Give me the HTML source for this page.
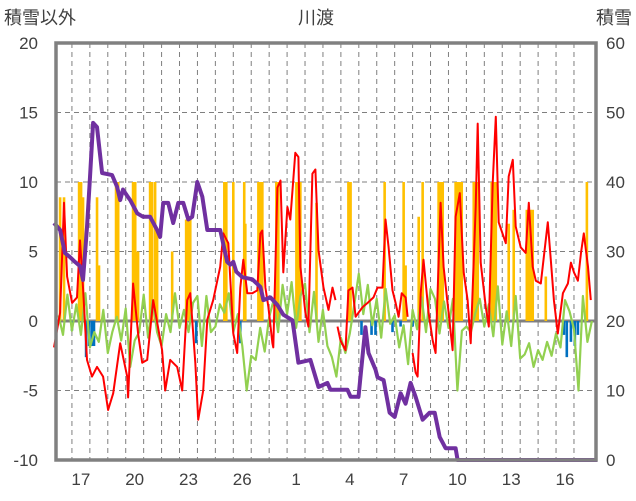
<!DOCTYPE html>
<html><head><meta charset="utf-8">
<style>
html,body{margin:0;padding:0;background:#fff;}
svg{display:block;font-family:"Liberation Sans","Noto Sans CJK JP",sans-serif;}
</style></head>
<body>
<svg id="chart" width="636" height="501" viewBox="0 0 636 501" xmlns="http://www.w3.org/2000/svg">
<g id="grid"></g>
<g id="bars"></g>
<g id="lines"></g>
<g id="frame"></g>
<g id="labels"></g>
</svg>
<script>
const leftTicks=[-10,-5,0,5,10,15,20];
const rightTicks=[0,10,20,30,40,50,60];
const dayLabels=["17","20","23","26","1","4","7","10","13","16"];
const dayLabelT=[1.5,4.5,7.5,10.5,13.5,16.5,19.5,22.5,25.5,28.5];
const redT=[0,0.34,0.56,0.73,1.01,1.28,1.45,1.62,1.84,2.12,2.4,2.74,3.02,3.3,3.69,4.08,4.13,4.41,4.69,4.92,5.2,5.53,6.03,6.2,6.48,6.87,7.15,7.43,7.6,7.88,8.04,8.32,8.55,8.88,9.27,9.44,9.72,10.0,10.22,10.39,10.56,10.78,11.06,11.34,11.51,11.62,11.79,11.96,12.18,12.23,12.46,12.63,12.79,13.02,13.18,13.46,13.63,13.74,14.02,14.19,14.41,14.58,14.75,15.03,15.31,15.53,15.7,15.75,15.81,15.98,16.26,16.42,16.65,16.82,16.98,17.21,17.49,17.82,18.04,18.32,18.49,18.66,18.88,19.05,19.22,19.39,19.61,19.72,19.85,20.0,20.17,20.28,20.45,20.61,20.89,21.12,21.28,21.56,21.73,22.01,22.23,22.4,22.63,22.85,23.07,23.24,23.52,23.63,23.8,24.08,24.25,24.47,24.64,24.8,25.2,25.36,25.59,25.75,26.03,26.31,26.48,26.7,26.87,27.15,27.32,27.54,27.71,27.88,28.1,28.38,28.66,28.83,29.0,29.22,29.39,29.55,29.78,29.94];
const redV=[-1.9,0.6,8.5,3.2,1.3,1.7,5.8,2.4,-2.8,-4.0,-3.3,-4.0,-6.4,-5.2,-1.6,-4.0,-5.5,2.7,-0.9,-3.0,-2.8,1.5,-2.1,-5.0,-2.8,-3.3,-5.0,1.5,2.0,-3.0,-7.1,-5.0,0.1,1.5,3.9,6.3,5.6,-0.9,-2.3,2.4,4.4,2.0,2.0,2.2,6.3,6.5,2.4,1.0,-1.6,-1.9,9.6,10.1,3.5,8.2,7.3,12.1,11.8,3.9,0.6,-0.4,10.6,10.9,5.1,2.4,0.8,2.4,1.5,null,-0.4,-1.4,-2.1,2.2,2.4,0.3,0.6,1.0,1.3,1.7,2.4,2.4,7.3,5.3,2.2,1.3,0.3,2.0,1.7,0.3,null,-2.3,-3.7,-4.0,2.0,4.4,0.6,-1.4,-2.3,8.5,3.9,0.6,-2.1,7.5,9.2,3.5,1.5,-1.6,8.2,14.2,4.2,1.0,-0.4,9.9,14.7,7.1,5.6,10.4,11.6,6.8,5.3,4.9,8.5,3.9,2.9,2.7,4.6,7.1,4.4,1.5,-0.9,2.0,2.7,4.2,3.5,2.9,4.9,6.3,3.9,1.5];
const greenV=[0.4,-1,1.9,-0.7, 1.2,-1,2,-1.9, -0.8,-1.5,0.8,-2.3, -0.8,0.3,-1.4,0.9, -3.3,-1.4,-0.8,1.9, -1.2,1.5,-0.8,-1.8, 0.5,-0.8,2,-0.5, 0.8,-0.8,1.3,1.8, -1.8,1.8,-0.8,-0.4, 1.2,0.6,2,-0.8, 0.5,-1.8,-5,-2.5, -2.8,-0.5,-2.2,0.3, 1.5,-0.8,2.6,0.5, 2.8,-0.5,1.8,2.7, -0.8,2.1,-1.5,0.8, -1.8,-2.6,-4,-1.2, -2.3,-0.9,1.2,3.4, 0.5,2.6,-0.3,1.6, -1.2,2.3,-0.2,0.4, -1.9,-0.3,-3.1,0.8, -0.6,1.7,-0.8,2.3, 1.6,-0.9,1.4,-0.5, 1.6,-5,-0.7,-0.4, -0.8,0.6,1.6,-0.4, 1.2,-1.1,2.5,-1.7, 0.7,-1.8,1.8,-2.7, -2.4,-1.6,-3.3,-2.1, -2.8,-1.5,-2.5,-0.9, -1.9,1.5,0.7,-0.6, -5,1.8,-1.5,0];
const yellowT=[0.34,0.56,1.4,1.51,1.62,2.4,2.51,3.46,3.58,4.41,4.53,4.64,4.69,5.36,5.47,5.64,5.75,6.59,7.37,7.49,7.6,9.5,9.61,10.0,10.61,10.67,11.4,11.51,11.62,12.4,12.51,13.52,13.63,13.74,14.64,16.42,16.54,18.44,19.5,19.61,20.34,20.56,21.45,21.56,21.68,22.4,22.51,22.63,22.74,23.41,23.52,23.63,24.41,24.53,24.64,25.36,25.64,26.37,26.48,26.59,26.7,27.43,29.72];
const yellowV=[8.9,8.9,10,10,8.9,8.9,4,10,10,10,10,5,5,10,10,10,6.5,5,7.3,7.3,7.3,10,10,10,10,7,10,10,10,10,10,10,10,10,8.5,10,10,10,10,4,7.5,10,10,10,10,10,10,10,10,10,10,10,10,10,10,7,8,8,8,8,8,3.2,10];
const blueT=[1.0,1.79,1.96,2.12,2.23,7.93,10.39,17.15,17.71,17.93,18.88,19.33,20.0,28.44,28.6,28.83,29.05,29.22];
const blueV=[-0.7,-2.6,-1.8,-1.8,-1.8,-1.6,-1.6,-1,-1,-1,-0.8,-0.4,-0.4,-1,-2.6,-1.5,-1.8,-1];
const snowT=[0,0.34,0.61,0.89,1.17,1.45,1.62,1.84,2.01,2.18,2.4,2.68,3.24,3.52,3.69,3.85,4.08,4.25,4.64,4.97,5.36,5.75,5.92,6.09,6.37,6.65,6.93,7.21,7.49,7.71,7.99,8.27,8.55,8.88,9.27,9.66,9.83,10.0,10.17,10.5,11.06,11.51,11.68,12.07,12.46,12.79,13.3,13.63,14.3,14.75,15.25,15.42,16.37,16.54,16.98,17.37,17.54,17.77,17.93,18.04,18.38,18.72,19.0,19.33,19.61,19.89,20.17,20.56,20.95,21.23,21.51,21.84,22.01,22.4,22.51,30.3];
const snowV=[34.1,33.1,29.8,29.2,28.5,27.9,25.9,33.5,40.7,48.5,47.9,41.3,41.0,39.3,37.4,38.9,38.0,37.4,35.5,35.0,35.0,33.1,32.1,37.0,37.0,34.1,37.0,37.0,34.6,35.0,40.0,37.9,33.1,33.1,33.1,28.5,28.1,28.5,27.1,26.3,26.0,24.9,23.0,23.4,22.3,20.9,20.1,14.0,14.4,10.5,11.1,10.1,10.1,9.1,9.1,19.1,15.4,14.0,13.0,11.9,11.5,6.8,6.2,9.6,8.1,11.1,9.1,5.8,6.8,6.8,3.3,1.7,1.7,1.7,0,0];

const NS="http://www.w3.org/2000/svg";
const X0=54, DX=17.93, L=56, R=596, T=43, B=460;
function xs(t){return X0+t*DX;}
function yl(v){return 321-v*13.9;}
function yr(s){return B-s*(B-T)/60;}
function mk(tag,attrs,parent){const e=document.createElementNS(NS,tag);for(const k in attrs)e.setAttribute(k,attrs[k]);parent.appendChild(e);return e;}
const grid=document.getElementById('grid'),bars=document.getElementById('bars'),lines=document.getElementById('lines'),frame=document.getElementById('frame'),labels=document.getElementById('labels');

// vertical dashed day lines
for(let k=1;k<30;k++){const x=xs(k);if(x>=R-2)break;
 const ln=mk('line',{x1:x,x2:x,y1:T,y2:B,stroke:'#7f7f7f','stroke-width':1,'stroke-dasharray':'5,4'},grid);
 
 }
leftTicks.forEach(v=>{if(v===-10||v===20||v===0)return;
 const ln=mk('line',{x1:L,x2:R,y1:yl(v),y2:yl(v),stroke:'#7f7f7f','stroke-width':1,'stroke-dasharray':'5,4'},grid);
 
 });

const bw=2.6;
yellowT.forEach((t,i)=>{const r=mk('rect',{x:xs(t)-bw/2,y:yl(yellowV[i]),width:bw,height:yl(0)-yl(yellowV[i]),fill:'#ffc000'},bars);
 
 });
blueT.forEach((t,i)=>{const r=mk('rect',{x:xs(t)-bw/2,y:yl(0),width:bw,height:yl(blueV[i])-yl(0),fill:'#0070c0'},bars);
 
 });

// zero line
const z=mk('line',{x1:L,x2:R,y1:yl(0),y2:yl(0),stroke:'#808080','stroke-width':3},grid);



function pathFrom(ts,vs,yf){let d='',pen=false;ts.forEach((t,i)=>{const v=vs[i];if(v===null){pen=false;return;}d+=(pen?'L':'M')+xs(t).toFixed(1)+','+yf(v).toFixed(1);pen=true;});return d;}
const greenT=greenV.map((v,i)=>0.25+i*0.25);
const g=mk('path',{d:pathFrom(greenT,greenV,yl),fill:'none',stroke:'#92d050','stroke-width':2.2,'stroke-linejoin':'round'},lines);


const rd=mk('path',{d:pathFrom(redT,redV,yl),fill:'none',stroke:'#ff0000','stroke-width':2,'stroke-linejoin':'round'},lines);


const sn=mk('path',{d:pathFrom(snowT,snowV,yr),fill:'none',stroke:'#7030a0','stroke-width':4,'stroke-linejoin':'round'},lines);



// frame (clip overflow)
const fr=mk('rect',{x:L,y:T,width:R-L,height:B-T,fill:'none',stroke:'#808080','stroke-width':3.5},frame);


const cover=mk('rect',{x:R+2,y:T,width:40,height:B-T,fill:'#fff'},frame);


frame.insertBefore(cover,fr);

leftTicks.forEach(v=>{const t=mk('text',{x:38,y:yl(v)+6,'text-anchor':'end','font-size':17,fill:'#404040'},labels);t.textContent=v;
 
 });
rightTicks.forEach(s=>{const t=mk('text',{x:606,y:yr(s)+6,'font-size':17,fill:'#404040'},labels);t.textContent=s;
 
 });
dayLabels.forEach((l,i)=>{const t=mk('text',{x:xs(dayLabelT[i]),y:485,'text-anchor':'middle','font-size':17,fill:'#404040'},labels);t.textContent=l;
 
 });
</script>
<svg style="position:absolute;left:0;top:0" width="636" height="40">
<text x="4" y="24" font-size="18" fill="#404040" font-family="Liberation Sans, Noto Sans CJK JP, sans-serif">積雪以外</text>
<text x="316" y="24" font-size="18" fill="#404040" text-anchor="middle" font-family="Liberation Sans, Noto Sans CJK JP, sans-serif">川渡</text>
<text x="632" y="24" font-size="18" fill="#404040" text-anchor="end" font-family="Liberation Sans, Noto Sans CJK JP, sans-serif">積雪</text>
</svg>
</body></html>
